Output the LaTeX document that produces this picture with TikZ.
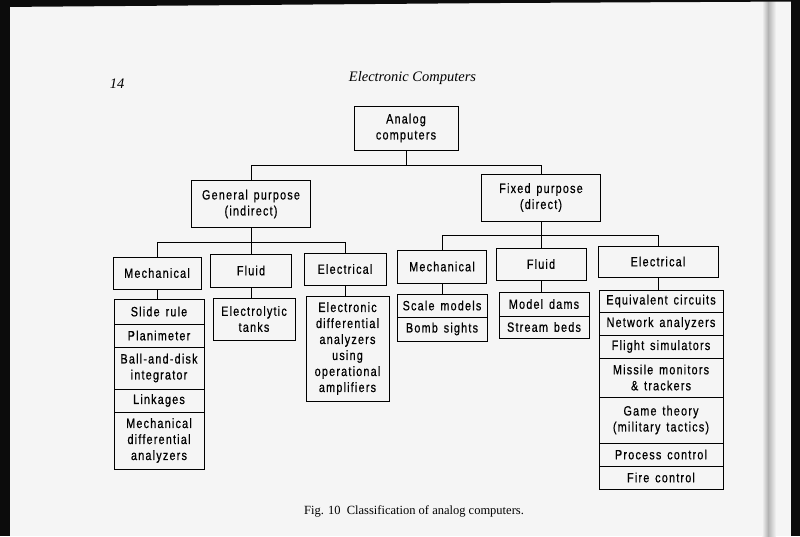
\documentclass[tikz,border=0pt]{standalone}
\usepackage{fontspec}
\setmainfont{Liberation Serif}
\newfontfamily\lettering[FakeStretch=0.8,LetterSpace=9,WordSpace=1.4,FakeBold=0.6]{Liberation Sans}
\definecolor{pagebg}{RGB}{245,245,245}
\definecolor{scanblack}{RGB}{12,12,12}
\begin{document}
\begin{tikzpicture}[x=1pt,y=-1pt,
  bx/.style={draw, line width=1pt, rectangle, inner sep=0pt, align=center,
    font=\lettering\fontsize{13.5}{16}\selectfont},
  ln/.style={line width=1pt},
  serifit/.style={font=\fontsize{14.5}{16}\selectfont\itshape, inner sep=0pt, anchor=base}]
\useasboundingbox (0,0) rectangle (800,536);
% page
\fill[pagebg] (0,0) rectangle (800,536);
% header
\node[serifit] (pg) at (117,88) {14};
\node[serifit] (title) at (412.5,81) {Electronic Computers};
% level 0 and 1
\node[bx, minimum width=104, minimum height=44] (root) at (406,128) {Analog\\computers};
\node[bx, minimum width=119, minimum height=47] (gp) at (251,204) {General purpose\\(indirect)};
\node[bx, minimum width=119, minimum height=47] (fp) at (541,197.5) {Fixed purpose\\(direct)};
% level 2
\node[bx, minimum width=88, minimum height=32] (ml) at (157,273) {Mechanical};
\node[bx, minimum width=81, minimum height=33] (fl) at (251,270.5) {Fluid};
\node[bx, minimum width=82, minimum height=32] (el) at (345,269) {Electrical};
\node[bx, minimum width=89, minimum height=33] (mr) at (442,266.5) {Mechanical};
\node[bx, minimum width=90, minimum height=32] (fr) at (541,264) {Fluid};
\node[bx, minimum width=120, minimum height=31] (er) at (658,261.5) {Electrical};
% level 3 left
\node[bx, minimum width=90, minimum height=25] (sr) at (159,311.5) {Slide rule};
\node[bx, minimum width=90, minimum height=23] (pl) at (159,335.5) {Planimeter};
\node[bx, minimum width=90, minimum height=42] (bd) at (159,368) {Ball-and-disk\\integrator};
\node[bx, minimum width=90, minimum height=23] (lk) at (159,400.5) {Linkages};
\node[bx, minimum width=90, minimum height=57] (mda) at (159,440.5) {Mechanical\\differential\\analyzers};
\node[bx, minimum width=82, minimum height=42] (et) at (254,319) {Electrolytic\\tanks};
\node[bx, minimum width=83, minimum height=105] (eda) at (347.5,348.5) {Electronic\\differential\\analyzers\\using\\operational\\amplifiers};
% level 3 right
\node[bx, minimum width=90, minimum height=23] (sm) at (442,305.5) {Scale models};
\node[bx, minimum width=90, minimum height=24] (bs) at (442,329) {Bomb sights};
\node[bx, minimum width=90, minimum height=24] (mdm) at (544,304) {Model dams};
\node[bx, minimum width=90, minimum height=22] (sb) at (544,327) {Stream beds};
\node[bx, minimum width=124, minimum height=22] (eq) at (661,301) {Equivalent circuits};
\node[bx, minimum width=124, minimum height=23] (na) at (661,323.5) {Network analyzers};
\node[bx, minimum width=124, minimum height=23] (fs) at (661,346.5) {Flight simulators};
\node[bx, minimum width=124, minimum height=39] (mm) at (661,377.5) {Missile monitors\\\&\ trackers};
\node[bx, minimum width=124, minimum height=46] (gt) at (661,420) {Game theory\\(military tactics)};
\node[bx, minimum width=124, minimum height=23] (pc) at (661,454.5) {Process control};
\node[bx, minimum width=124, minimum height=23] (fc) at (661,477.5) {Fire control};
% buses
\coordinate (b1) at (0,165);
\coordinate (b2) at (0,242);
\coordinate (b3) at (0,235);
\draw[ln] (root.south) -- (root.south |- b1);
\draw[ln] (gp.north) |- (fp.north |- b1) -- (fp.north);
\draw[ln] (gp.south) -- (gp.south |- b2);
\draw[ln] (ml.north) |- (el.north |- b2) -- (el.north);
\draw[ln] (fl.north) -- (fl.north |- b2);
\draw[ln] (fp.south) -- (fp.south |- b3);
\draw[ln] (mr.north) |- (er.north |- b3) -- (er.north);
\draw[ln] (fr.north) -- (fr.north |- b3);
% level 2 to 3
\draw[ln] (ml.south) -- (ml.south |- sr.north);
\draw[ln] (fl.south) -- (fl.south |- et.north);
\draw[ln] (el.south) -- (el.south |- eda.north);
\draw[ln] (mr.south) -- (mr.south |- sm.north);
\draw[ln] (fr.south) -- (fr.south |- mdm.north);
\draw[ln] (er.south) -- (er.south |- eq.north);
% caption
\node[font=\fontsize{12.5}{15}\selectfont, inner sep=0pt, anchor=base] (cap) at (414,514) {Fig. 10\enspace Classification of analog computers.};
% scan borders
\shade[left color=pagebg, right color=gray!60] (762,0) rectangle (768,536);
\shade[left color=gray!60, right color=pagebg] (768,0) rectangle (776,536);
\fill[scanblack] (0,0) rectangle (10,536);
\fill[scanblack] (0,0) -- (800,0) -- (800,1.5) -- (500,3) -- (0,7) -- cycle;
\fill[scanblack] (791,0) rectangle (800,536);
\end{tikzpicture}
\end{document}
